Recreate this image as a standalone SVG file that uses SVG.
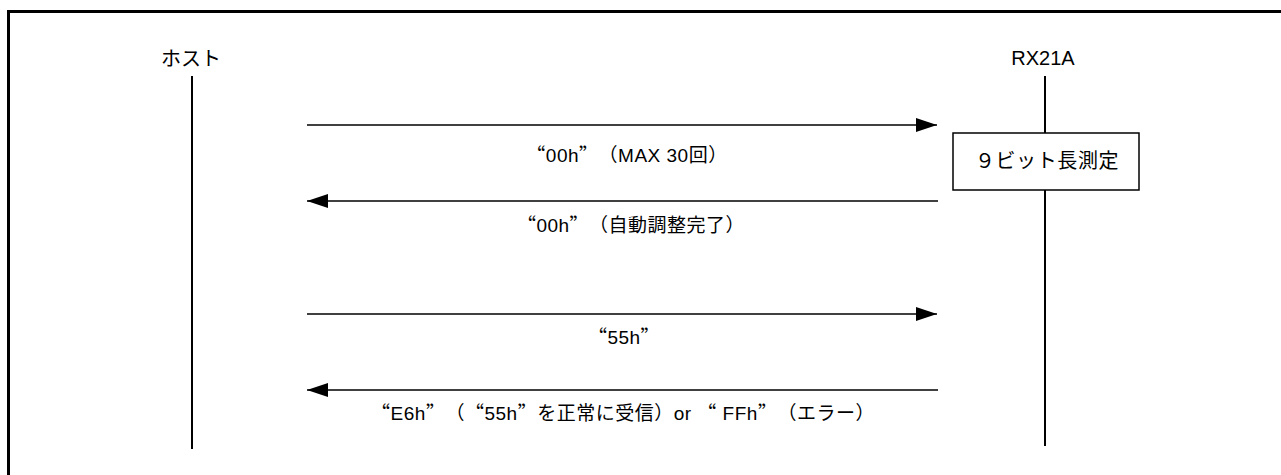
<svg xmlns="http://www.w3.org/2000/svg" width="1281" height="475" viewBox="0 0 1281 475">
<style>
text{font-family:"Liberation Sans","Noto Sans CJK JP",sans-serif;fill:#000}
.q{font-family:"Noto Sans CJK JP",sans-serif;font-feature-settings:"fwid" 1}
.lbl{font-size:19px;text-anchor:middle;letter-spacing:0.5px}
.hdr{font-size:20px;text-anchor:middle}
.life{stroke:#000;stroke-width:2;fill:none}
.msg{stroke:#000;stroke-width:1.3;fill:none;marker-end:url(#ah)}
</style>
<defs>
<marker id="ah" markerUnits="userSpaceOnUse" markerWidth="22" markerHeight="14" refX="21" refY="7" orient="auto">
<path d="M0,0 L21,7 L0,14 Z" fill="#000"/>
</marker>
</defs>
<rect x="8.5" y="11.5" width="1300" height="500" fill="none" stroke="#000" stroke-width="3"/>
<g id="host">
<text class="hdr" x="191" y="66">ホスト</text>
<line class="life" x1="192" y1="76" x2="192" y2="449"/>
</g>
<g id="rx21a">
<text class="hdr" x="1043" y="65">RX21A</text>
<line class="life" x1="1045" y1="76" x2="1045" y2="446"/>
</g>
<g id="measure">
<rect x="953" y="133" width="186" height="57" fill="#fff" stroke="#000" stroke-width="1.5"/>
<text x="1047" y="168" style="font-size:20px;text-anchor:middle;letter-spacing:0.6px">９ビット長測定</text>
</g>
<g id="connectors">
<line class="msg" x1="307" y1="125" x2="937" y2="125"/>
<text class="lbl" x="627" y="162"><tspan class="q">“</tspan>00h<tspan class="q">”</tspan>（MAX 30回）</text>
<line class="msg" x1="938" y1="201" x2="307" y2="201"/>
<text class="lbl" x="631" y="232"><tspan class="q">“</tspan>00h<tspan class="q">”</tspan>（自動調整完了）</text>
<line class="msg" x1="307" y1="314" x2="937" y2="314"/>
<text class="lbl" x="624" y="344"><tspan class="q">“</tspan>55h<tspan class="q">”</tspan></text>
<line class="msg" x1="938" y1="390" x2="307" y2="390"/>
<text class="lbl" x="623" y="420"><tspan class="q">“</tspan>E6h<tspan class="q">”</tspan>（<tspan class="q">“</tspan>55h<tspan class="q">”</tspan>を正常に受信）or <tspan class="q">“</tspan> FFh<tspan class="q">”</tspan>（エラー）</text>
</g>
</svg>
